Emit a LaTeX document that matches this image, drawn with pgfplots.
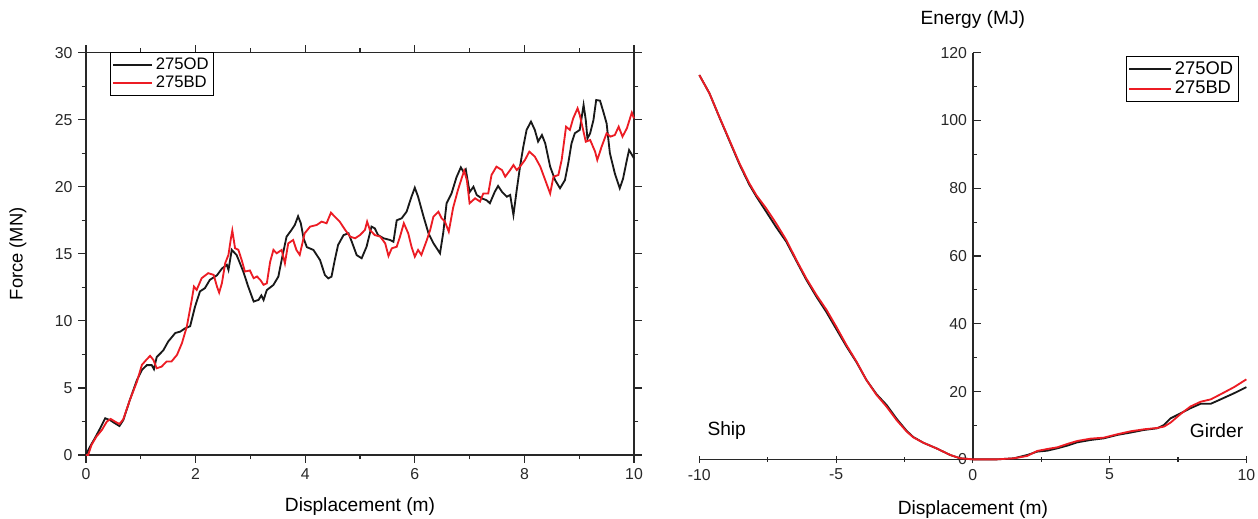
\documentclass[border=0pt]{standalone}
\usepackage{fontspec}
\setmainfont{Liberation Sans}
\usepackage{pgfplots}
\pgfplotsset{compat=1.18}
\definecolor{cred}{RGB}{236,28,36}
\definecolor{cblack}{RGB}{25,25,25}
\definecolor{axgray}{RGB}{40,40,40}
\pgfplotsset{
  common/.style={
    scale only axis,
    /pgf/number format/assume math mode=true,
    tick label style={font=\fontsize{9.5}{11}\selectfont, color=axgray},
    major tick length=4.6pt, minor tick length=2.6pt,
    tick align=outside,
    axis line style={line width=0.9pt, color=axgray},
    every tick/.style={line width=0.7pt, axgray},
    legend style={draw=black, line width=0.6pt, inner sep=1pt, outer sep=0pt, row sep=-1.5pt, cells={anchor=west}},
    clip=false,
  }
}
\begin{document}
\begin{tikzpicture}
\useasboundingbox (-51.6pt,-37.8pt) rectangle (703.2pt,273pt);
% ---------------- Left: Force ----------------
\begin{axis}[common, at={(0pt,0pt)}, anchor=south west,
  width=328.8pt, height=241.4pt,
  xmin=0, xmax=10, ymin=0, ymax=30,
  xtick={0,2,...,10}, minor x tick num=1,
  ytick={0,5,...,30}, minor y tick num=1,
  xlabel={Displacement (m)}, ylabel={Force (MN)},
  xlabel style={font=\fontsize{11.5}{13}\selectfont, at={(axis description cs:0.5,0)}, anchor=center, yshift=-31.2pt},
  ylabel style={font=\fontsize{11}{13}\selectfont, at={(axis description cs:-0.1241,0.5)}, anchor=center},
  legend style={font=\fontsize{10}{12}\selectfont, at={(rel axis cs:0.045,1)}, anchor=north west},
  legend image code/.code={\draw[#1] (0pt,0pt) -- (23pt,0pt);},
]
\addplot[cblack, line width=1.1pt] coordinates {
(0,0) (0.07,0.6) (0.16,1.24) (0.26,2.0) (0.35,2.74) (0.44,2.6) (0.53,2.36) (0.61,2.16) (0.68,2.6) (0.80,4.1) (0.93,5.6) (1.02,6.34) (1.11,6.7) (1.2,6.7) (1.24,6.4) (1.29,7.3) (1.41,7.8) (1.5,8.46) (1.63,9.1) (1.72,9.2) (1.81,9.45) (1.9,9.6) (1.99,11.07) (2.08,12.2) (2.17,12.44) (2.26,13.06) (2.39,13.4) (2.48,13.9) (2.57,14.18) (2.6,13.8) (2.66,15.3) (2.75,14.9) (2.87,13.68) (2.96,12.56) (3.06,11.44) (3.15,11.57) (3.2,11.9) (3.24,11.56) (3.30,12.3) (3.42,12.68) (3.51,13.3) (3.57,14.54) (3.66,16.28) (3.75,16.78) (3.81,17.15) (3.87,17.8) (3.92,17.28) (3.97,16.16) (4.03,15.5) (4.15,15.29) (4.27,14.54) (4.36,13.42) (4.42,13.17) (4.48,13.3) (4.54,14.54) (4.60,15.66) (4.70,16.4) (4.79,16.53) (4.85,15.9) (4.94,14.9) (5.03,14.67) (5.12,15.53) (5.21,17.03) (5.27,16.9) (5.33,16.4) (5.43,16.16) (5.55,16.03) (5.61,15.9) (5.67,17.5) (5.76,17.65) (5.85,18.14) (5.94,19.26) (6.0,19.93) (6.06,19.26) (6.16,17.77) (6.25,16.53) (6.34,15.79) (6.46,15.04) (6.52,16.6) (6.58,18.77) (6.67,19.5) (6.76,20.7) (6.84,21.45) (6.89,21.1) (6.93,21.3) (7.0,19.6) (7.07,20.0) (7.13,19.39) (7.22,19.14) (7.31,19.0) (7.37,18.77) (7.46,19.63) (7.52,20.06) (7.59,19.63) (7.68,19.26) (7.74,19.39) (7.80,17.9) (7.86,19.76) (7.92,21.5) (7.98,22.99) (8.04,24.24) (8.12,24.86) (8.19,24.24) (8.25,23.37) (8.32,23.86) (8.38,23.24) (8.47,21.5) (8.56,20.5) (8.65,19.89) (8.74,20.5) (8.80,21.75) (8.86,23.24) (8.92,23.99) (9.01,24.24) (9.08,26.1) (9.12,24.98) (9.15,23.6) (9.20,23.99) (9.26,24.98) (9.31,26.47) (9.38,26.42) (9.44,25.6) (9.50,24.73) (9.56,22.5) (9.65,21.0) (9.74,19.89) (9.80,20.6) (9.87,22.0) (9.91,22.74) (10.0,22.12)
};
\addlegendentry{275OD}
\addplot[cred, line width=1.1pt] coordinates {
(0,0) (0.04,0) (0.10,0.75) (0.19,1.37) (0.29,1.87) (0.38,2.49) (0.45,2.69) (0.53,2.49) (0.61,2.31) (0.68,2.66) (0.8,4.1) (0.93,5.47) (1.02,6.72) (1.11,7.14) (1.17,7.39) (1.23,7.09) (1.29,6.47) (1.38,6.59) (1.47,6.97) (1.56,6.97) (1.66,7.46) (1.75,8.33) (1.84,9.58) (1.93,11.57) (1.97,12.56) (2.02,12.31) (2.11,13.18) (2.23,13.56) (2.33,13.43) (2.39,12.56) (2.43,12.11) (2.48,12.81) (2.54,14.3) (2.6,14.93) (2.64,16.04) (2.67,16.74) (2.72,15.42) (2.78,15.3) (2.84,14.55) (2.90,13.68) (2.99,13.76) (3.06,13.18) (3.12,13.31) (3.18,13.06) (3.24,12.69) (3.30,12.8) (3.36,14.4) (3.42,15.29) (3.48,15.04) (3.57,15.29) (3.63,14.29) (3.69,15.78) (3.78,16.03) (3.84,15.29) (3.90,14.92) (3.99,16.53) (4.09,17.03) (4.21,17.15) (4.30,17.4) (4.39,17.28) (4.47,18.07) (4.54,17.77) (4.63,17.4) (4.73,16.78) (4.82,16.28) (4.91,16.16) (5.00,16.4) (5.09,16.78) (5.13,17.4) (5.18,16.78) (5.27,16.4) (5.37,16.28) (5.46,15.78) (5.52,14.84) (5.58,15.41) (5.67,15.53) (5.73,16.28) (5.80,17.28) (5.88,16.53) (5.94,15.53) (6.00,14.79) (6.06,15.29) (6.12,14.92) (6.22,16.03) (6.28,16.78) (6.34,17.77) (6.43,18.14) (6.49,17.65) (6.55,17.4) (6.62,16.65) (6.70,18.45) (6.79,19.8) (6.90,21.2) (6.95,20.5) (7.0,18.77) (7.10,19.14) (7.19,18.9) (7.25,19.5) (7.34,19.5) (7.40,20.88) (7.49,21.5) (7.59,21.25) (7.65,20.75) (7.74,21.25) (7.80,21.62) (7.86,21.25) (7.92,21.5) (8.01,22.0) (8.09,22.62) (8.19,22.25) (8.29,21.5) (8.38,20.5) (8.47,19.5) (8.53,20.75) (8.62,20.88) (8.68,22.0) (8.76,24.48) (8.83,24.24) (8.89,25.1) (8.97,25.85) (9.01,25.36) (9.12,23.36) (9.20,23.49) (9.29,22.62) (9.33,22.0) (9.41,23.0) (9.50,23.99) (9.57,23.74) (9.65,23.86) (9.72,24.48) (9.79,23.74) (9.87,24.36) (9.96,25.53) (10.0,25.1)
};
\addlegendentry{275BD}
\end{axis}
% ---------------- Right: Energy ----------------
\begin{axis}[common, at={(368pt,-2.6pt)}, anchor=south west,
  width=328.2pt, height=244pt,
  xmin=-10, xmax=10, ymin=0, ymax=120,
  axis x line=bottom, axis y line=middle,
  inner axis line style={-}, outer axis line style={-},
  hide obscured x ticks=false, hide obscured y ticks=false,
  xtick={-10,-5,0,5,10}, minor x tick num=1,
  ytick={0,20,...,120}, minor y tick num=1,
  ytick align=inside,
  xlabel={Displacement (m)},
  xlabel style={font=\fontsize{11.5}{13}\selectfont, at={(axis description cs:0.5,0)}, anchor=center, yshift=-30pt},
  legend style={font=\fontsize{11}{13}\selectfont, at={(rel axis cs:1,1)}, anchor=north east, xshift=-5pt, yshift=-2.4pt},
  legend image code/.code={\draw[#1] (0pt,0pt) -- (25pt,0pt);},
]
\addplot[cblack, line width=1.1pt] coordinates {
(-10,113.4) (-9.63,108) (-9.27,101.0) (-8.9,94.0) (-8.53,87.0) (-8.17,81.0) (-7.92,77.6) (-7.55,73.0) (-7.19,68.5) (-6.82,64.2) (-6.45,58.5) (-6.09,53.0) (-5.72,48.0) (-5.35,43.4) (-4.99,38.4) (-4.62,33.3) (-4.25,28.6) (-3.89,23.4) (-3.52,19.2) (-3.15,16.0) (-2.79,12.0) (-2.42,8.4) (-2.18,6.6) (-1.81,4.9) (-1.32,3.2) (-0.83,1.3) (-0.46,0.3) (0,0)
(0.89,0) (1.5,0.3) (1.99,1.28) (2.35,2.27) (2.72,2.56) (3.09,3.25) (3.45,4.04) (3.82,5.02) (4.3,5.7) (4.79,6.2) (5.28,7.2) (5.77,7.9) (6.26,8.67) (6.74,9.16) (6.99,10.15) (7.23,12.1) (7.6,13.6) (7.96,15.1) (8.33,16.4) (8.7,16.4) (9.06,17.7) (9.55,19.5) (10,21.3)
};
\addlegendentry{275OD}
\addplot[cred, line width=1.1pt] coordinates {
(-10,113.4) (-9.63,108) (-9.27,101.1) (-8.9,94.2) (-8.53,87.3) (-8.17,81.4) (-7.92,78.0) (-7.55,74.0) (-7.19,69.6) (-6.82,64.7) (-6.45,58.8) (-6.09,53.4) (-5.72,48.5) (-5.35,44.1) (-4.99,39.1) (-4.62,33.7) (-4.25,28.8) (-3.89,23.4) (-3.52,19.0) (-3.15,15.5) (-2.79,11.6) (-2.42,8.2) (-2.18,6.5) (-1.81,4.9) (-1.32,3.2) (-0.83,1.3) (-0.46,0.3) (0,0)
(0.89,0) (1.5,0.3) (1.99,1.0) (2.35,2.46) (2.72,3.05) (3.09,3.55) (3.45,4.53) (3.82,5.42) (4.3,6.1) (4.79,6.4) (5.28,7.4) (5.77,8.28) (6.26,8.87) (6.74,9.26) (6.99,9.66) (7.23,10.84) (7.6,13.4) (7.96,15.6) (8.33,17.0) (8.7,17.7) (9.06,19.2) (9.55,21.3) (10,23.6)
};
\addlegendentry{275BD}
\node[font=\fontsize{11.5}{13}\selectfont] at (axis description cs:0.5,1) [yshift=19.6pt] {Energy (MJ)};
\node[font=\fontsize{11.5}{13}\selectfont] at (axis cs:-9.0,8.6) {Ship};
\node[font=\fontsize{11.5}{13}\selectfont, anchor=east] at (axis cs:10.1,8.5) {Girder};
\end{axis}
\end{tikzpicture}
\end{document}
